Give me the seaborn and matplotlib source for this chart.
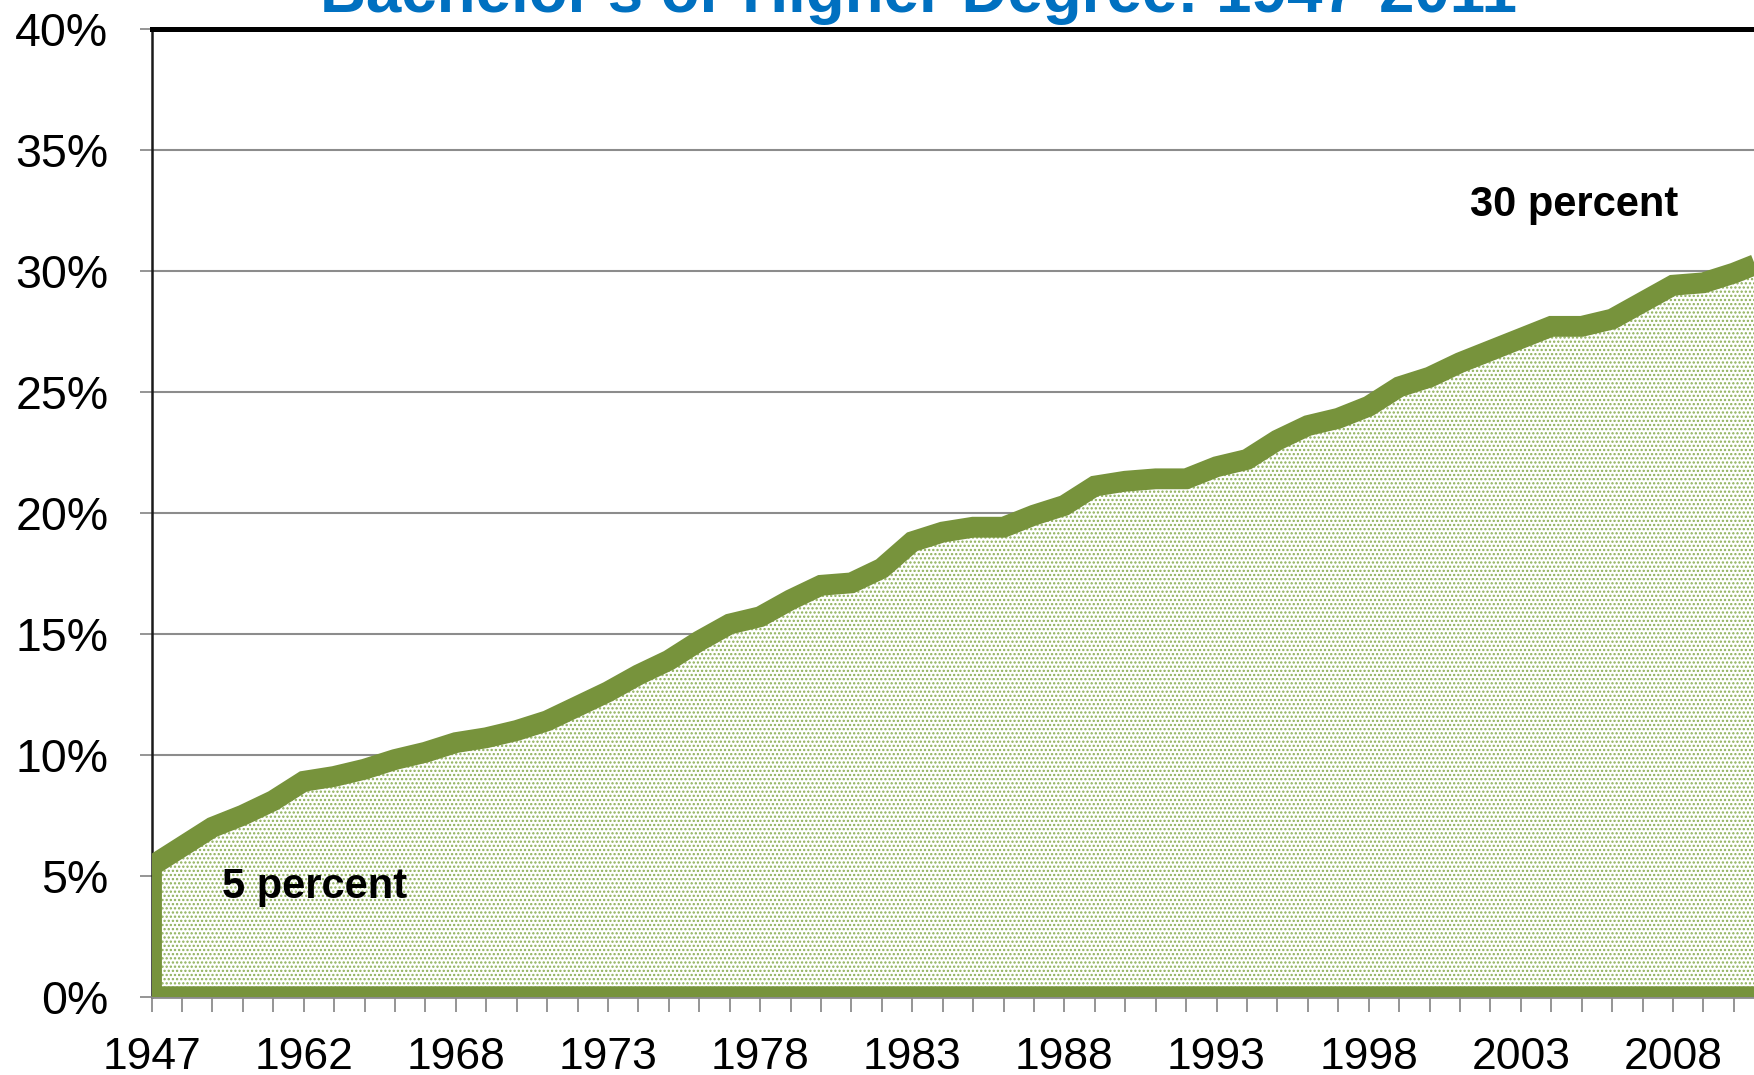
import numpy as np
import matplotlib
matplotlib.use('Agg')
import matplotlib.pyplot as plt
from matplotlib.ticker import FixedLocator, FuncFormatter
import seaborn as sns

# Percent of people 25+ with a bachelor's or higher degree
years = ['1947', '1950', '1952', '1957', '1959', '1962', '1964', '1965', '1966',
         '1967', '1968', '1969', '1970', '1971', '1972', '1973', '1974', '1975',
         '1976', '1977', '1978', '1979', '1980', '1981', '1982', '1983', '1984',
         '1985', '1986', '1987', '1988', '1989', '1990', '1991', '1992', '1993',
         '1994', '1995', '1996', '1997', '1998', '1999', '2000', '2001', '2002',
         '2003', '2004', '2005', '2006', '2007', '2008', '2009', '2010', '2011']
pct = [5.4, 6.2, 7.0, 7.5, 8.1, 8.9, 9.1, 9.4, 9.8,
       10.1, 10.5, 10.7, 11.0, 11.4, 12.0, 12.6, 13.3, 13.9,
       14.7, 15.4, 15.7, 16.4, 17.0, 17.1, 17.7, 18.8, 19.2,
       19.4, 19.4, 19.9, 20.3, 21.1, 21.3, 21.4, 21.4, 21.9,
       22.2, 23.0, 23.6, 23.9, 24.4, 25.2, 25.6, 26.2, 26.7,
       27.2, 27.7, 27.7, 28.0, 28.7, 29.4, 29.5, 29.9, 30.4]
labelled_years = ['1947', '1962', '1968', '1973', '1978', '1983',
                  '1988', '1993', '1998', '2003', '2008']
y_ticks = [0, 5, 10, 15, 20, 25, 30, 35, 40]

title = "Bachelor's or Higher Degree: 1947-2011"
line_green = '#77933C'
dot_green = '#8DAF58'
grid_gray = '#8C8C8C'

sns.set_theme(style='white')
plt.rcParams['font.family'] = ['Liberation Sans', 'DejaVu Sans']
plt.rcParams['hatch.color'] = dot_green
plt.rcParams['hatch.linewidth'] = 1.1

W, H = 1754, 1075
fig = plt.figure(figsize=(W / 100, H / 100), dpi=100)
# plot area runs slightly past the right edge (reference is cropped there)
ax = fig.add_axes([151.5 / W, 78.3 / H, 53 * 30.43 / W, 968 / H])

x = np.arange(len(years))
ax.fill_between(x, pct, 0, facecolor='white', edgecolor=dot_green,
                linewidth=0, hatch='....', zorder=2)

# outline of the area (top line plus left edge and baseline)
outline_x = [0] + list(x) + [x[-1], 0]
outline_y = [0] + pct + [0, 0]
sns.lineplot(x=outline_x, y=outline_y, sort=False, estimator=None,
             color=line_green, linewidth=15, ax=ax, zorder=3,
             solid_joinstyle='miter', solid_capstyle='butt')

ax.set_xlim(0, len(years) - 1)
ax.set_ylim(0, 40)
ax.set_xlabel('')
ax.set_ylabel('')

ax.xaxis.set_major_locator(FixedLocator([years.index(y) for y in labelled_years]))
ax.xaxis.set_minor_locator(FixedLocator(list(x)))
ax.set_xticklabels(labelled_years)
ax.set_yticks(y_ticks)
ax.yaxis.set_major_formatter(FuncFormatter(lambda v, p: f'{v:.0f}%'))

ax.set_axisbelow(True)
ax.yaxis.grid(True, color=grid_gray, linewidth=1.5)
ax.xaxis.grid(False)

ax.tick_params(axis='x', which='both', bottom=True, length=11, width=1.3,
               color=grid_gray, pad=18, labelsize=32, labelcolor='black')
ax.tick_params(axis='y', which='major', left=True, length=9, width=1.3,
               color=grid_gray, pad=22, labelsize=33.5, labelcolor='black')

ax.spines['top'].set_color('black')
ax.spines['top'].set_linewidth(3.6)
ax.spines['left'].set_color('#1A1A1A')
ax.spines['left'].set_linewidth(1.8)
ax.spines['bottom'].set_color(grid_gray)
ax.spines['bottom'].set_linewidth(2)
ax.spines['right'].set_visible(False)

ax.text(2.32, 4.09, '5 percent', fontsize=30, fontweight='bold',
        ha='left', va='baseline', color='black', zorder=5)
ax.text(43.33, 32.24, '30 percent', fontsize=30, fontweight='bold',
        ha='left', va='baseline', color='black', zorder=5)

# title sits partly above the top edge, as in the reference
fig.text(0.5235, 1 - 12 / H, title, ha='center', va='baseline', fontsize=45.8,
         fontweight='bold', color='#0070C0')

fig.savefig('out.png', dpi=100)
